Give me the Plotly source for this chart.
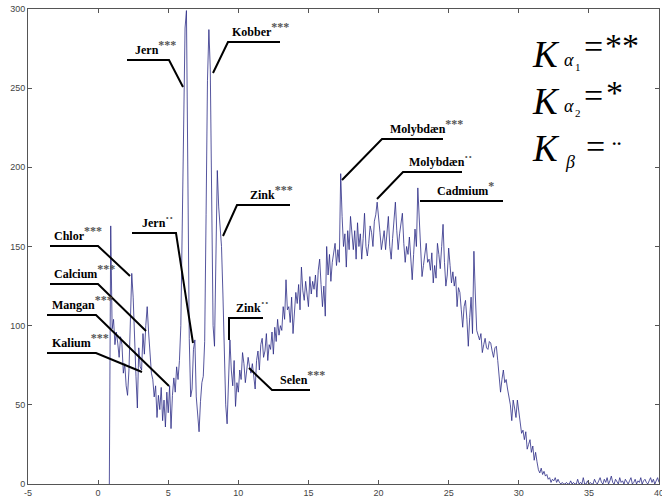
import plotly.graph_objects as go

# ---------------- data ----------------
energy_start_kev = 0.8
energy_step_kev = 0.1
counts = [
    0, 163,
    98, 104, 88, 96, 89, 80, 93, 88, 70, 76,
    62, 56, 72, 105, 133, 118, 84, 68, 48, 86,
    74, 72, 95, 82, 100, 112, 96, 84, 70, 66,
    55, 62, 42, 56, 47, 61, 40, 53, 36, 58,
    45, 62, 35, 56, 67, 58, 74, 66, 78, 100,
    165, 252, 288, 299, 185, 92, 55, 60, 85, 91,
    55, 40, 33, 52, 64, 68, 90, 170, 255, 287,
    262, 180, 100, 87, 140, 198, 175, 160, 150, 120,
    75, 50, 38, 60, 91, 72, 62, 78, 49, 64,
    58, 72, 66, 83, 76, 64, 71, 80, 74, 70,
    76, 68, 60, 78, 84, 72, 88, 92, 80, 84,
    95, 78, 88, 85, 96, 82, 99, 90, 104, 94,
    100, 97, 112, 104, 129, 110, 112, 102, 118, 95,
    108, 121, 114, 126, 110, 137, 122, 116, 128, 120,
    112, 131, 120, 128, 123, 132, 118, 135, 142, 126,
    112, 125, 106, 150, 132, 145, 128, 140, 146, 152,
    138, 148, 140, 196, 169, 150, 158, 137, 160, 148,
    169, 155, 148, 160, 142, 165, 150, 158, 142, 155,
    171, 150, 144, 152, 163, 159, 150, 166, 170, 178,
    165, 159, 148, 155, 160, 148, 162, 169, 150, 142,
    155, 170, 178, 160, 148, 158, 164, 171, 152, 140,
    150, 145, 156, 140, 129, 145, 161, 150, 187, 168,
    148, 131, 138, 145, 152, 140, 142, 135, 146, 127,
    138, 130, 152, 145, 136, 150, 164, 140, 125, 132,
    149, 138, 127, 134, 125, 131, 112, 124, 121, 110,
    99, 112, 116, 104, 87, 105, 118, 95, 147, 120,
    97, 94, 91, 95, 83, 88, 92, 86, 85, 90,
    89, 84, 80, 86, 87, 78, 70, 58, 66, 72,
    64, 66, 60, 55, 50, 40, 53, 48, 42, 53,
    45, 38, 32, 34, 28, 33, 22, 25, 28, 20,
    24, 15, 20, 14, 9, 7, 10, 6, 8, 5,
    6, 3, 4, 1, 3, 2, 4, 1, 3, 1,
    0, 1, 0, 0, 1, 0, 0, 2, 0, 1,
    0, 0, 3, 0, 1, 0, 4, 0, 0, 2,
    0, 1, 0, 0, 3, 1, 0, 2, 4, 1,
    0, 3, 1, 4, 0, 2, 5, 1, 0, 3,
    1, 0, 4, 1, 2, 0, 3, 1, 0, 2,
    4, 0, 1, 3, 0, 2, 1, 4, 0, 2,
    3, 1, 0, 2, 4, 1, 3, 0, 2, 4,
    1,
]
energy_kev = [round(energy_start_kev + i * energy_step_kev, 1) for i in range(len(counts))]

x_ticks = [-5, 0, 5, 10, 15, 20, 25, 30, 35, 40]
y_ticks = [0, 50, 100, 150, 200, 250, 300]

peak_names = ["Chlor", "Calcium", "Mangan", "Kalium", "Jern", "Kobber", "Zink",
              "Jern", "Zink", "Selen", "Molybdæn", "Molybdæn", "Cadmium"]
peak_marks = ["***", "***", "***", "***", "***", "***", "***",
              "··", "··", "***", "***", "··", "*"]

legend_symbols = ["α", "α", "β"]
legend_indices = ["1", "2", ""]
legend_marks = ["**", "*", "¨"]

# ---------------- layout helpers (pixel geometry) ----------------
W, H = 662, 498
PL, PR, PT, PB = 28, 659, 9, 484


def px_x(px):
    return -5 + (px - PL) * 45.0 / (PR - PL)


def px_y(py):
    return (PB - py) * 300.0 / (PB - PT)


def pap_x(px):
    return (px - PL) / (PR - PL)


def pap_y(py):
    return (PB - py) / (PB - PT)


# text left, line left, line right, line y, tip (px,py) or None, join side
label_geom = [
    (52, 50, 98, 246, (130, 276), "right"),
    (52, 50, 98, 284, (146, 331), "right"),
    (50, 47, 96, 315, (169, 386), "right"),
    (50, 47, 96, 353, (142, 372), "right"),
    (133, 127, 169, 60, (183, 87), "right"),
    (230, 228, 280, 42, (213, 73), "left"),
    (248, 237, 290, 205, (223, 236), "left"),
    (140, 132, 176, 233, (193, 343), "right"),
    (234, 229, 263, 318, (229, 340), "left"),
    (278, 272, 310, 390, (249, 368), "left"),
    (388, 382, 443, 139, (342, 180), "left"),
    (407, 403, 462, 172, (377, 199), "left"),
    (435, 420, 503, 201, None, "left"),
]

fig = go.Figure()
fig.add_trace(go.Scatter(
    x=energy_kev, y=counts, mode="lines",
    line=dict(color="#2b2b85", width=0.8),
    hoverinfo="skip",
))

shapes = []
annotations = []
for name, mark, (tl, l0, l1, ly, tip, join) in zip(peak_names, peak_marks, label_geom):
    pts = [(l0, ly), (l1, ly)]
    if tip is not None:
        if join == "right":
            pts = [(l0, ly), (l1, ly), tip]
        else:
            pts = [tip, (l0, ly), (l1, ly)]
    path = "M " + " L ".join(f"{px_x(a):.4f},{px_y(b):.4f}" for a, b in pts)
    shapes.append(dict(type="path", path=path, xref="x", yref="y",
                       line=dict(color="black", width=2)))
    annotations.append(dict(
        x=px_x(tl), y=px_y(ly - 1), xref="x", yref="y",
        xanchor="left", yanchor="bottom", showarrow=False,
        text=(f"<b>{name}<sup><span style='font-size:12px;color:#555555'>"
              f"{mark}</span></sup></b>"),
        font=dict(family="Liberation Serif", size=12, color="black"),
    ))

serif = "Liberation Serif"


def legend_text(px, py, text, size):
    annotations.append(dict(x=pap_x(px), y=pap_y(py), xref="paper", yref="paper",
                            xanchor="center", yanchor="middle",
                            text=text, showarrow=False,
                            font=dict(family=serif, size=size, color="black")))


# row geometry (pixel centres)
legend_rows = [
    dict(k=(546, 55), s=(569, 60), i=(578, 67), eq=(593, 47), m=(622, 46)),
    dict(k=(546, 101), s=(569, 106), i=(578, 113), eq=(593, 95), m=(614, 92)),
    dict(k=(546, 148), s=(570, 162), i=(0, 0), eq=(595, 147), m=(616, 150)),
]
for sym, idx, mark, g in zip(legend_symbols, legend_indices, legend_marks, legend_rows):
    legend_text(*g["k"], "<i>K</i>", 37)
    legend_text(*g["s"], f"<i>{sym}</i>", 18)
    if idx:
        legend_text(*g["i"], idx, 11)
    legend_text(*g["eq"], "=", 34)
    legend_text(*g["m"], mark, 34 if mark != "¨" else 28)

axis_common = dict(
    showline=True, linecolor="#555555", linewidth=1, mirror="ticks",
    ticks="inside", ticklen=4, tickcolor="#555555", showgrid=False, zeroline=False,
    tickfont=dict(family="Liberation Sans", size=9, color="#444444"),
    ticklabeloverflow="allow",
)

fig.update_layout(
    width=W, height=H,
    margin=dict(l=PL, r=W - PR, t=PT, b=H - PB, autoexpand=False),
    paper_bgcolor="white", plot_bgcolor="white",
    showlegend=False,
    xaxis=dict(range=[-5, 40], tickvals=x_ticks, ticktext=[str(v) for v in x_ticks], **axis_common),
    yaxis=dict(range=[0, 300], tickvals=y_ticks, ticktext=[str(v) for v in y_ticks], **axis_common),
    shapes=shapes,
    annotations=annotations,
)

fig.write_html("out.html", config={"displayModeBar": False})

# remove the browser's default page margin so the figure sits at the window origin
with open("out.html", "r", encoding="utf-8") as fh:
    html = fh.read()
html = html.replace("<head>", "<head><style>html,body{margin:0;padding:0;overflow:hidden;}</style>", 1)
with open("out.html", "w", encoding="utf-8") as fh:
    fh.write(html)
